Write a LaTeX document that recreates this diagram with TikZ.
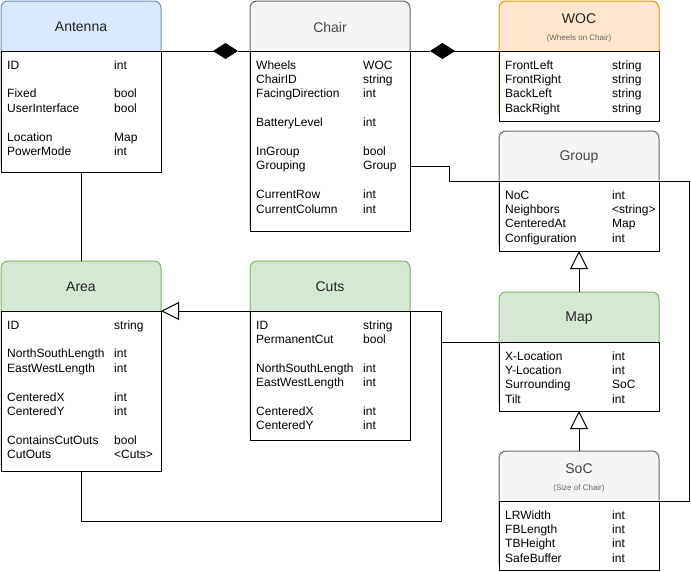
\documentclass[tikz,border=0pt]{standalone}
\usepackage{fontspec}
\setmainfont{Liberation Sans}
\usetikzlibrary{arrows.meta}
\definecolor{blueF}{HTML}{DAE8FC}
\definecolor{blueS}{HTML}{6C8EBF}
\definecolor{grayF}{HTML}{F5F5F5}
\definecolor{grayS}{HTML}{666666}
\definecolor{orangeF}{HTML}{FFE6CC}
\definecolor{orangeS}{HTML}{D79B00}
\definecolor{greenF}{HTML}{D5E8D4}
\definecolor{greenS}{HTML}{82B366}
\definecolor{grayT}{HTML}{444444}
\definecolor{darkT}{HTML}{222222}
\definecolor{subT}{HTML}{666666}
\tikzset{
  outerbox/.style={rectangle, rounded corners=7pt, line width=1pt, minimum width=160pt, inner sep=0pt, outer sep=0pt},
  bodybox/.style={rectangle, draw=black, fill=white, line width=1pt, minimum width=160pt, inner sep=0pt, outer sep=0pt},
  ttl/.style={inner sep=0pt, text=darkT, font=\fontsize{14}{16.8}\selectfont},
  subttl/.style={inner sep=0pt, text=subT, font=\fontsize{8}{9.6}\selectfont},
  attr/.style={anchor=base west, inner sep=0pt, font=\fontsize{12}{14.4}\selectfont},
  conn/.style={line width=1pt, draw=black},
  gen/.style={conn, -{Triangle[length=18pt,width=18pt,fill=white]}},
  comp/.style={conn, -{Diamond[length=25pt,width=16pt]}},
}
\newcommand\umlclass[7]{%
  \node[outerbox, fill=#6, draw=#7, minimum height={(#5-#3)*1pt}, anchor=north west] (#1O) at (#2,#3) {};
  \node[bodybox, minimum height={(#5-#4)*1pt}, anchor=north west] (#1) at (#2,#4) {};
}
\newcommand\umlattrs[4]{%
  \foreach \nm/\ty [count=\i from 0] in {#4}{%
    \node[attr] (#1n\i) at ({#2+6},{#3+18*1+14.4*\i}) {\nm};
    \node[attr] (#1t\i) at ({#2+113},{#3+18*1+14.4*\i}) {\ty};
  }%
}
\begin{document}
\begin{tikzpicture}[x=1pt,y=-1pt]
\useasboundingbox[fill=white] (0,0) rectangle (691,571);

% classes
\umlclass{ant}{1}{1}{51}{172}{blueF}{blueS}
\umlclass{chair}{250}{1}{51}{231}{grayF}{grayS}
\umlclass{woc}{499}{1}{51}{121}{orangeF}{orangeS}
\umlclass{grp}{499}{131}{181}{251}{grayF}{grayS}
\umlclass{area}{1}{261}{311}{471}{greenF}{greenS}
\umlclass{cuts}{250}{261}{311}{440}{greenF}{greenS}
\umlclass{map}{499}{292}{342}{411}{greenF}{greenS}
\umlclass{soc}{499}{451}{501}{570}{grayF}{grayS}

% titles
\node[ttl] (antT) at (81,27) {Antenna};
\node[ttl, text=grayT] (chairT) at (330,27) {Chair};
\node[ttl] (wocT) at (579,19) {WOC};
\node[subttl] (wocS) at (579,38) {(Wheels on Chair)};
\node[ttl, text=grayT] (grpT) at (579,157) {Group};
\node[ttl] (areaT) at (81,287) {Area};
\node[ttl] (cutsT) at (330,287) {Cuts};
\node[ttl] (mapT) at (579,318) {Map};
\node[ttl, text=grayT] (socT) at (579,469) {SoC};
\node[subttl] (socS) at (579,488) {(Size of Chair)};

% attributes
\umlattrs{ant}{1}{51}{ID/int,{}/{},Fixed/bool,UserInterface/bool,{}/{},Location/Map,PowerMode/int}
\umlattrs{chair}{250}{51}{Wheels/WOC,ChairID/string,FacingDirection/int,{}/{},BatteryLevel/int,{}/{},InGroup/bool,Grouping/Group,{}/{},CurrentRow/int,CurrentColumn/int}
\umlattrs{woc}{499}{51}{FrontLeft/string,FrontRight/string,BackLeft/string,BackRight/string}
\umlattrs{grp}{499}{181}{NoC/int,Neighbors/<string>,CenteredAt/Map,Configuration/int}
\umlattrs{area}{1}{311}{ID/string,{}/{},NorthSouthLength/int,EastWestLength/int,{}/{},CenteredX/int,CenteredY/int,{}/{},ContainsCutOuts/bool,CutOuts/<Cuts>}
\umlattrs{cuts}{250}{311}{ID/string,PermanentCut/bool,{}/{},NorthSouthLength/int,EastWestLength/int,{}/{},CenteredX/int,CenteredY/int}
\umlattrs{map}{499}{342}{X-Location/int,Y-Location/int,Surrounding/SoC,Tilt/int}
\umlattrs{soc}{499}{501}{LRWidth/int,FBLength/int,TBHeight/int,SafeBuffer/int}

% connectors
\coordinate (dA) at (238,51);
\coordinate (dW) at (430,51);
\draw[comp] (ant.north east) -- (dA);
\draw[conn] (dA) -- (chair.north west);
\draw[comp] (woc.north west) -- (dW);
\draw[conn] (dW) -- (chair.north east);
\draw[conn] (ant.south) -- (areaO.north);
\draw[conn] ([yshift=-115pt]chair.north east) -- ++(39,0) -- ++(0,15) -- (689,181) |- (soc.north east);
\draw[gen] (map.north west) -- (441,342) |- (area.north east);
\draw[conn] (area.south) |- (441,521) |- (map.north west);
\draw[gen] (mapO.north) -- (grp.south);
\draw[gen] (socO.north) -- (map.south);
\end{tikzpicture}
\end{document}
